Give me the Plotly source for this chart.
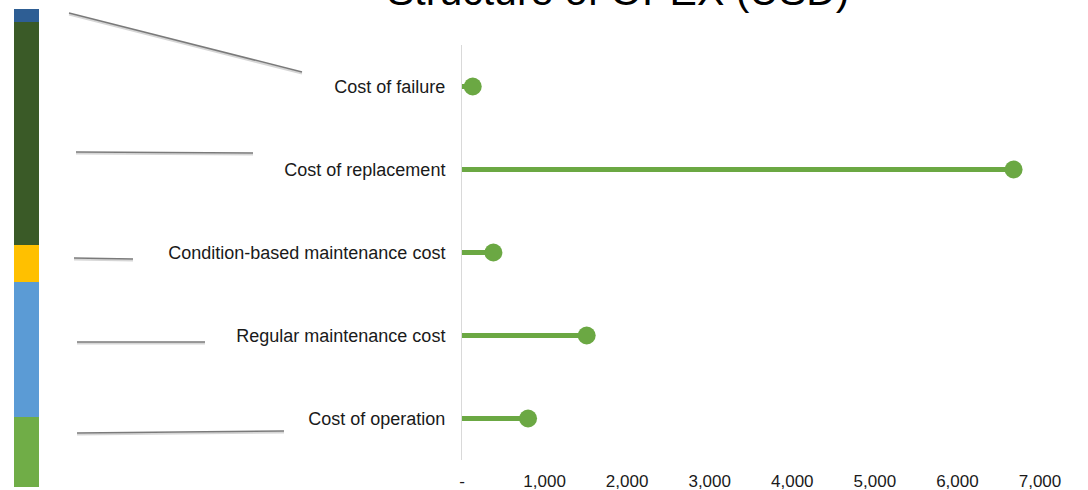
import plotly.graph_objects as go

# data (top to bottom, as shown on the chart)
categories = [
    "Cost of failure",
    "Cost of replacement",
    "Condition-based maintenance cost",
    "Regular maintenance cost",
    "Cost of operation",
]
opex_usd = [130, 6680, 380, 1510, 800]

# share of each item in the stacked bar on the left (%)
bar_share = [2.7, 46.7, 7.7, 28.2, 14.6]
bar_colors = ["#2E5E94", "#3A5A27", "#FFC000", "#5B9BD5", "#70AD47"]

x_tickvals = [0, 1000, 2000, 3000, 4000, 5000, 6000, 7000]
x_ticktext = ["-", "1,000", "2,000", "3,000", "4,000", "5,000", "6,000", "7,000"]

W, H = 1088, 490
GREEN = "#6BA843"
FONT = "Liberation Sans, Arial, sans-serif"


def px_x(p):
    return p / W


def px_y(p):
    return 1 - p / H


fig = go.Figure()

# lollipop stems
stem_x, stem_y = [], []
for c, v in zip(categories, opex_usd):
    stem_x += [0, v, None]
    stem_y += [c, c, None]
fig.add_trace(go.Scatter(
    x=stem_x, y=stem_y, mode="lines",
    line=dict(color=GREEN, width=5), hoverinfo="skip", showlegend=False,
))
fig.add_trace(go.Scatter(
    x=opex_usd, y=categories, mode="markers",
    marker=dict(color=GREEN, size=18), showlegend=False,
))

# stacked bar on the left, bottom segment first
for c, s, col in reversed(list(zip(categories, bar_share, bar_colors))):
    fig.add_trace(go.Bar(
        x=[0], y=[s], name=c, width=1, marker=dict(color=col, line=dict(width=0)),
        xaxis="x2", yaxis="y2", showlegend=False,
    ))

# leader lines from the bar to the labels (pixel positions)
leaders = [
    (69, 13, 302, 72),
    (76, 152, 253, 153),
    (74, 258, 133, 259),
    (77, 342, 205, 342),
    (77, 433, 284, 431),
]
shapes = []
for x0, y0, x1, y1 in leaders:
    shapes.append(dict(type="line", xref="paper", yref="paper",
                       x0=px_x(x0), y0=px_y(y0 + 1.5), x1=px_x(x1), y1=px_y(y1 + 1.5),
                       line=dict(color="#D6D6D6", width=2)))
    shapes.append(dict(type="line", xref="paper", yref="paper",
                       x0=px_x(x0), y0=px_y(y0), x1=px_x(x1), y1=px_y(y1),
                       line=dict(color="#7A7A7A", width=1.5)))

fig.update_layout(
    width=W, height=H,
    margin=dict(l=0, r=0, t=0, b=0, autoexpand=False),
    paper_bgcolor="white", plot_bgcolor="white",
    barmode="stack",
    font=dict(family=FONT, color="#1A1A1A"),
    shapes=shapes,
    xaxis=dict(
        domain=[px_x(462), px_x(1040)], range=[0, 7000],
        tickvals=x_tickvals, ticktext=x_ticktext,
        showgrid=False, zeroline=False, showline=False, ticks="",
        tickfont=dict(size=17), ticklabelstandoff=9,
    ),
    yaxis=dict(
        domain=[px_y(460), px_y(45)],
        categoryorder="array", categoryarray=categories[::-1],
        range=[-0.5, len(categories) - 0.5],
        showgrid=False, zeroline=False, showline=True,
        linecolor="#D9D9D9", linewidth=1, ticks="",
        tickfont=dict(size=18), ticklabelstandoff=12,
    ),
    xaxis2=dict(domain=[px_x(14), px_x(39)], range=[-0.5, 0.5], anchor="y2",
                visible=False),
    yaxis2=dict(domain=[px_y(487), px_y(9)], range=[0, sum(bar_share)], anchor="x2",
                visible=False),
    annotations=[dict(
        text="Structure of OPEX (USD)", xref="paper", yref="paper",
        x=px_x(618), y=px_y(16), xanchor="center", yanchor="bottom",
        showarrow=False, font=dict(size=41, color="#000000"),
    )],
)

fig.write_html(
    "out.html",
    config={"displayModeBar": False},
    post_script=(
        "document.body.style.margin='0';"
        "document.body.style.overflow='hidden';"
        "document.documentElement.style.overflow='hidden';"
    ),
)
